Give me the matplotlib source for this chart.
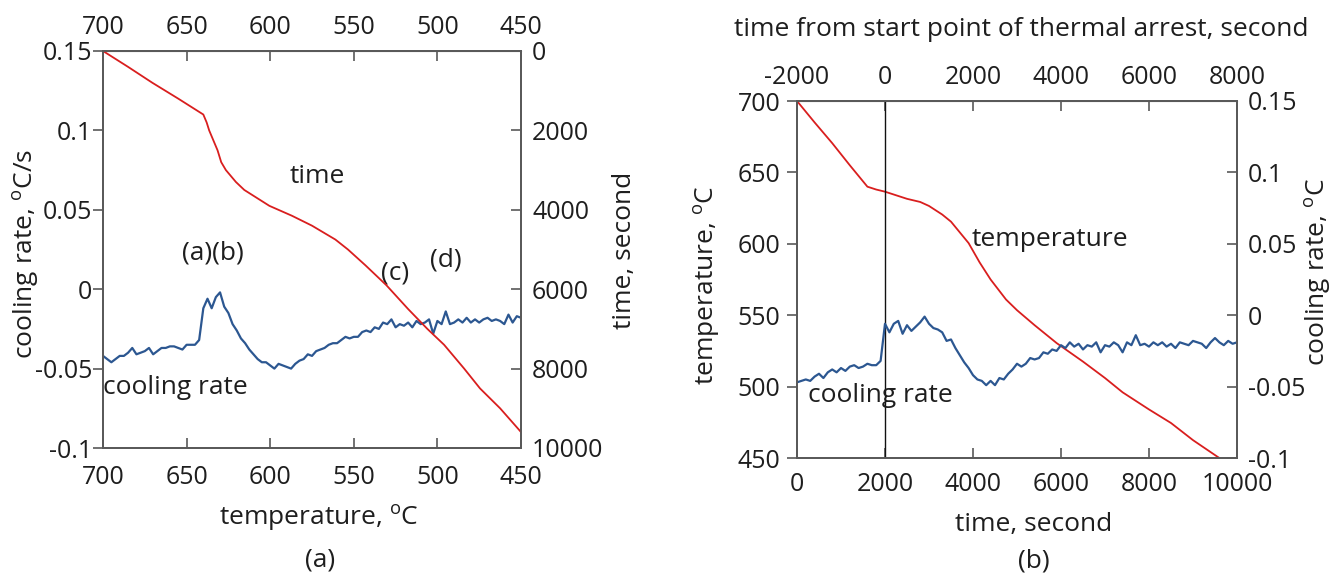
import matplotlib
matplotlib.use("Agg")
import matplotlib.pyplot as plt
import numpy as np

plt.rcParams["font.family"] = ["Open Sans", "DejaVu Sans"]
plt.rcParams["mathtext.fontset"] = "custom"
plt.rcParams["mathtext.rm"] = "Open Sans"
plt.rcParams["mathtext.it"] = "Open Sans"
plt.rcParams["axes.unicode_minus"] = False
plt.rcParams["font.size"] = 18

TEXT = "#1e1e1e"
SPINE = "#595959"
RED = "#d91e1e"
BLUE = "#2c5791"
DEG = r"$^{\mathrm{o}}$C"
LABEL_SIZE = 19

# time-temperature record (red curve, shared by both panels)
red_time = [0, 400, 800, 1200, 1600, 1800, 2000, 2200, 2500, 2800, 3000, 3300, 3500,
            3700, 3900, 4150, 4400, 4750, 5000, 5400, 5900, 6500, 7000, 7400, 8000,
            8500, 9000, 9550, 9800]
red_temp = [700, 685, 670.5, 655, 640, 638, 636.5, 634.5, 631.5, 629.3, 626.5, 620.5, 615.5,
            608, 600.5, 587, 575, 561, 553.5, 543, 530.5, 517.5, 506, 496, 484,
            474.5, 462.5, 451, 446]

# panel (a): cooling rate against temperature
rate_a_temp = np.arange(700, 449, -2.5)
rate_a = [-0.042, -0.044, -0.046, -0.044, -0.042, -0.042, -0.040, -0.037, -0.041, -0.040,
          -0.039, -0.037, -0.041, -0.039, -0.037, -0.037, -0.036, -0.036, -0.037, -0.038,
          -0.035, -0.035, -0.035, -0.032, -0.012, -0.006, -0.012, -0.005, -0.002, -0.011,
          -0.015, -0.022, -0.026, -0.031, -0.034, -0.038, -0.041, -0.044, -0.046, -0.046,
          -0.048, -0.050, -0.047, -0.048, -0.049, -0.050, -0.047, -0.045, -0.044, -0.041,
          -0.042, -0.039, -0.038, -0.037, -0.035, -0.034, -0.034, -0.032, -0.030, -0.031,
          -0.030, -0.030, -0.027, -0.026, -0.027, -0.024, -0.025, -0.021, -0.022, -0.019,
          -0.024, -0.022, -0.023, -0.021, -0.024, -0.020, -0.022, -0.021, -0.019, -0.028,
          -0.020, -0.022, -0.014, -0.022, -0.021, -0.019, -0.021, -0.018, -0.021, -0.019,
          -0.021, -0.019, -0.018, -0.020, -0.019, -0.020, -0.022, -0.016, -0.021, -0.017,
          -0.018]

# panel (b): cooling rate against time
rate_b_time = np.arange(0, 10001, 100)
rate_b = [-0.047, -0.046, -0.045, -0.046, -0.043, -0.041, -0.044, -0.040, -0.038, -0.040,
          -0.037, -0.039, -0.036, -0.035, -0.037, -0.036, -0.034, -0.035, -0.035, -0.032,
          -0.006, -0.012, -0.006, -0.004, -0.013, -0.007, -0.011, -0.008, -0.005, -0.001,
          -0.006, -0.009, -0.010, -0.012, -0.018, -0.017, -0.023, -0.028, -0.033, -0.037,
          -0.042, -0.045, -0.046, -0.049, -0.046, -0.049, -0.044, -0.045, -0.041, -0.038,
          -0.034, -0.036, -0.034, -0.030, -0.031, -0.030, -0.026, -0.027, -0.024, -0.025,
          -0.021, -0.023, -0.019, -0.022, -0.020, -0.024, -0.021, -0.022, -0.019, -0.026,
          -0.021, -0.022, -0.019, -0.021, -0.026, -0.019, -0.021, -0.014, -0.021, -0.020,
          -0.022, -0.019, -0.021, -0.019, -0.022, -0.020, -0.023, -0.019, -0.020, -0.021,
          -0.018, -0.019, -0.020, -0.023, -0.019, -0.016, -0.019, -0.021, -0.018, -0.020,
          -0.019]

W, H = 1336, 575
fig = plt.figure(figsize=(W / 100, H / 100), dpi=100)


def px_box(x0, y0, x1, y1):
    return [x0 / W, 1 - y1 / H, (x1 - x0) / W, (y1 - y0) / H]


def style_spines(ax):
    for s in ax.spines.values():
        s.set_color(SPINE)
        s.set_linewidth(1.3)


def fig_text(x, y, s, **kw):
    fig.text(x / W, 1 - y / H, s, ha="center", va="center", color=TEXT,
             fontsize=LABEL_SIZE, **kw)


def ax_text(a, x, y, s):
    a.text(x, y, s, ha="center", va="center", color=TEXT, fontsize=LABEL_SIZE)


TICKS = dict(length=7, colors=SPINE, labelcolor=TEXT, width=1.2)

# ---------------- panel (a) ----------------
ax = fig.add_axes(px_box(103, 51, 521, 448))
ax.plot(rate_a_temp, rate_a, color=BLUE, lw=1.6)
ax.set_xlim(700, 450)
ax.set_ylim(-0.1, 0.15)
ax.set_xticks([700, 650, 600, 550, 500, 450])
ax.set_yticks([-0.1, -0.05, 0, 0.05, 0.1, 0.15])
ax.set_yticklabels(["-0.1", "-0.05", "0", "0.05", "0.1", "0.15"])
ax.tick_params(axis="x", direction="in", pad=12, **TICKS)
ax.tick_params(axis="y", direction="out", pad=1, **TICKS)
style_spines(ax)

atop = ax.secondary_xaxis("top")
atop.set_xticks([700, 650, 600, 550, 500, 450])
atop.tick_params(direction="in", pad=8, **TICKS)
atop.spines["top"].set_color(SPINE)

ax2 = ax.twinx()
ax2.plot(red_temp, red_time, color=RED, lw=1.3)
ax2.set_ylim(10000, 0)
ax2.set_yticks([0, 2000, 4000, 6000, 8000, 10000])
ax2.tick_params(axis="y", direction="in", pad=8, **TICKS)
style_spines(ax2)

ax_text(ax, 572, 0.0707, "time")
ax_text(ax, 634.5, 0.0228, "(a)(b)")
ax_text(ax, 525.4, 0.0102, "(c)")
ax_text(ax, 494.9, 0.0184, "(d)")
ax_text(ax, 657, -0.0622, "cooling rate")

fig_text(26, 254, "cooling rate, " + DEG + "/s", rotation=90)
fig_text(625, 250, "time, second", rotation=90)
fig_text(319, 518, "temperature, " + DEG)
fig_text(320, 560, "(a)")

# ---------------- panel (b) ----------------
bx = fig.add_axes(px_box(797, 101, 1237, 458))
bx.plot(red_time, red_temp, color=RED, lw=1.3)
bx.axvline(2000, color="#111111", lw=1.0)
bx.set_xlim(0, 10000)
bx.set_ylim(450, 700)
bx.set_xticks([0, 2000, 4000, 6000, 8000, 10000])
bx.set_yticks([450, 500, 550, 600, 650, 700])
bx.tick_params(axis="x", direction="in", pad=10, **TICKS)
bx.tick_params(axis="y", direction="out", pad=5, **TICKS)
style_spines(bx)

top = bx.secondary_xaxis("top", functions=(lambda x: x - 2000, lambda x: x + 2000))
top.set_xticks([-2000, 0, 2000, 4000, 6000, 8000])
top.tick_params(direction="in", pad=8, **TICKS)
top.spines["top"].set_color(SPINE)

bx2 = bx.twinx()
bx2.plot(rate_b_time, rate_b, color=BLUE, lw=1.6)
bx2.set_ylim(-0.1, 0.15)
bx2.set_yticks([-0.1, -0.05, 0, 0.05, 0.1, 0.15])
bx2.set_yticklabels(["-0.1", "-0.05", "0", "0.05", "0.1", "0.15"])
bx2.tick_params(axis="y", direction="in", pad=8, **TICKS)
style_spines(bx2)

ax_text(bx, 5750, 602.7, "temperature")
ax_text(bx, 1886, 494.1, "cooling rate")

fig_text(1021, 30, "time from start point of thermal arrest, second")
fig_text(707, 285, "temperature, " + DEG, rotation=90)
fig_text(1318, 272, "cooling rate, " + DEG, rotation=90)
fig_text(1034, 525, "time, second")
fig_text(1034, 561, "(b)")

fig.savefig("out.png", dpi=100)
